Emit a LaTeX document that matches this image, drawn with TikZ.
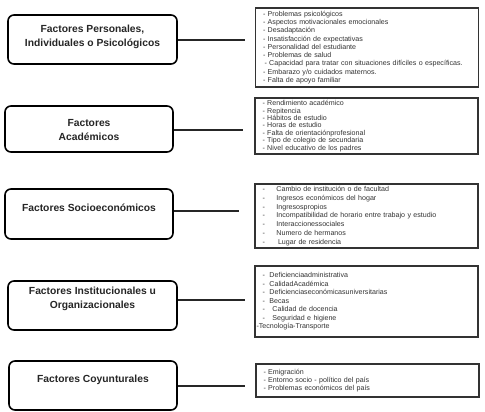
\documentclass[tikz,border=0pt]{standalone}
\usepackage{fontspec}
\setmainfont{Liberation Sans}
\newcommand\lii[2]{\makebox[#1][l]{-}#2}
\begin{document}
\begin{tikzpicture}[x=1pt,y=-1pt,
  factor/.style={draw=black, line width=1.6pt, rounded corners=6pt, fill=white, inner sep=0pt},
  ftext/.style={font=\fontsize{10.3}{13.5}\selectfont\bfseries, align=center, text=black!85, inner sep=0pt},
  listbox/.style={draw=black!80, line width=1.2pt, inner xsep=7.5pt, inner ysep=0pt,
    font=\fontsize{7.1}{8.3}\selectfont, align=left, text=black!80,
    minimum width=223pt, text width=208pt},
  link/.style={line width=1.1pt, draw=black!85}]
\useasboundingbox[fill=white] (0,0) rectangle (485,412);

% left factor boxes
\node[factor, minimum width=169pt, minimum height=49pt] (b1) at (92.5,39.5) {};
\node[ftext] (t1) at (92.5,37) {Factores Personales,\\Individuales o Psicológicos};
\node[factor, minimum width=168pt, minimum height=46pt] (b2) at (89,129) {};
\node[ftext] (t2) at (89,130) {Factores\\Académicos};
\node[factor, minimum width=168pt, minimum height=50pt] (b3) at (89,214) {};
\node[ftext] (t3) at (89,207.5) {Factores Socioeconómicos};
\node[factor, minimum width=169pt, minimum height=49pt] (b4) at (92.5,305.5) {};
\node[ftext] (t4) at (92.5,299) {Factores Institucionales u\\Organizacionales};
\node[factor, minimum width=168pt, minimum height=49pt] (b5) at (93,385.5) {};
\node[ftext] (t5) at (93,380) {Factores Coyunturales};

% connector ends
\coordinate (e1) at (245,40);
\coordinate (e2) at (243,130);
\coordinate (e3) at (239,211);
\coordinate (e4) at (245,300);
\coordinate (e5) at (245,386);
\draw[link] (b1.east |- e1) -- (e1);
\draw[link] (b2.east |- e2) -- (e2);
\draw[link] (b3.east |- e3) -- (e3);
\draw[link] (b4.east |- e4) -- (e4);
\draw[link] (b5.east |- e5) -- (e5);

% right lists
\node[listbox, minimum height=79pt] (r1) at (367,47.5) {%
- Problemas psicológicos\\
- Aspectos motivacionales emocionales\\
- Desadaptación\\
- Insatisfacción de expectativas\\
- Personalidad del estudiante\\
- Problemas de salud\\
\hspace*{1.5pt}- Capacidad para tratar con situaciones difíciles o específicas.\\
- Embarazo y/o cuidados maternos.\\
- Falta de apoyo familiar};

\node[listbox, minimum height=56pt, font=\fontsize{7.1}{7.4}\selectfont] (r2) at (366.5,126) {%
- Rendimiento académico\\
- Repitencia\\
- Hábitos de estudio\\
- Horas de estudio\\
- Falta de orientaciónprofesional\\
- Tipo de colegio de secundaria\\
- Nivel educativo de los padres};

\node[listbox, minimum height=64pt, font=\fontsize{7.1}{8.8}\selectfont] (r3) at (366.5,216) {%
\lii{14pt}{Cambio de institución o de facultad}\\
\lii{14pt}{Ingresos económicos del hogar}\\
\lii{14pt}{Ingresospropios}\\
\lii{14pt}{Incompatibilidad de horario entre trabajo y estudio}\\
\lii{14pt}{Interaccionessociales}\\
\lii{14pt}{Numero de hermanos}\\
\lii{15.5pt}{Lugar de residencia}};

\node[listbox, minimum height=71pt, font=\fontsize{7.1}{8.5}\selectfont] (r4) at (366.5,301.5) {%
\lii{7pt}{Deficienciaadministrativa}\\
\lii{7pt}{CalidadAcadémica}\\
\lii{7pt}{Deficienciaseconómicasuniversitarias}\\
\lii{7pt}{Becas}\\
\lii{10pt}{Calidad de docencia}\\
\lii{10pt}{Seguridad e higiene}\\
\hspace*{-6pt}-Tecnología-Transporte};

\node[listbox, minimum height=33pt, font=\fontsize{7.1}{8}\selectfont] (r5) at (367.5,380.5) {%
- Emigración\\
- Entorno socio - político del país\\
- Problemas económicos del país};
\end{tikzpicture}
\end{document}
